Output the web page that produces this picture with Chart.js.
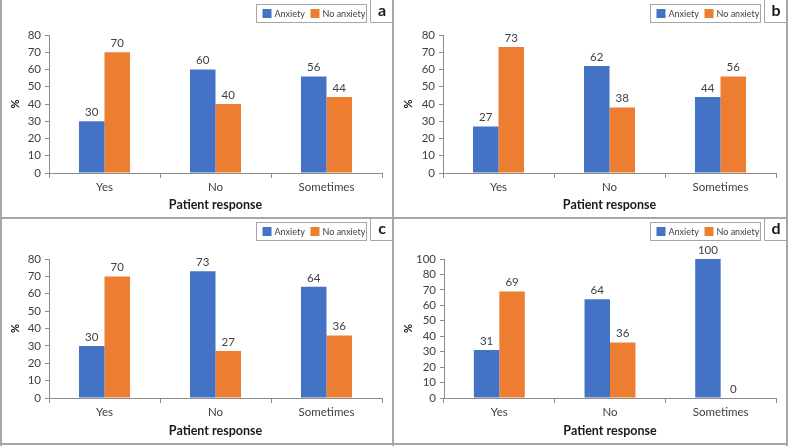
<!DOCTYPE html>
<html>
<head>
<meta charset="utf-8">
<script src="https://cdn.jsdelivr.net/npm/chart.js@4"></script>
<style>
  html,body{margin:0;padding:0;background:#fff;}
  #wrap{position:relative;width:788px;height:446px;overflow:hidden;}
  .panel{position:absolute;}
  .line{position:absolute;background:#a6a6a6;}
</style>
</head>
<body>
<div id="wrap">
  <div class="panel" style="left:0;top:0;width:393px;height:218px"><canvas id="ca"></canvas></div>
  <div class="panel" style="left:393px;top:0;width:394px;height:218px"><canvas id="cb"></canvas></div>
  <div class="panel" style="left:0;top:218px;width:393px;height:226px"><canvas id="cc"></canvas></div>
  <div class="panel" style="left:393px;top:218px;width:394px;height:226px"><canvas id="cd"></canvas></div>
  <div class="line" style="left:0;top:0;width:2px;height:446px"></div>
  <div class="line" style="left:786px;top:0;width:2px;height:446px"></div>
  <div class="line" style="left:392px;top:0;width:2px;height:446px"></div>
  <div class="line" style="left:0;top:217px;width:788px;height:2px"></div>
  <div class="line" style="left:0;top:443px;width:788px;height:2px"></div>
</div>
<script>
// ---- data ----
const categories = ['Yes', 'No', 'Sometimes'];
const seriesNames = ['Anxiety', 'No anxiety'];
const anxietyA = [30, 60, 56];
const noAnxietyA = [70, 40, 44];
const anxietyB = [27, 62, 44];
const noAnxietyB = [73, 38, 56];
const anxietyC = [30, 73, 64];
const noAnxietyC = [70, 27, 36];
const anxietyD = [31, 64, 100];
const noAnxietyD = [69, 36, 0];
const yTicksABC = [0, 10, 20, 30, 40, 50, 60, 70, 80];
const yTicksD = [0, 10, 20, 30, 40, 50, 60, 70, 80, 100];
const panelLetters = ['a', 'b', 'c', 'd'];
const xTitle = 'Patient response';
const yTitle = '%';

const BLUE = '#4472C4', ORANGE = '#ED7D31';
const FONT = 'Lato, "Open Sans", sans-serif';
const TXT = '#404040';
const AXIS = '#8c8c8c';

const decor = {
  id: 'decor',
  afterDatasetsDraw(chart, args, opts) {
    const ctx = chart.ctx;
    const W = chart.width;
    ctx.save();
    // data labels
    ctx.font = '11.5px ' + FONT;
    ctx.fillStyle = TXT;
    ctx.textAlign = 'center';
    ctx.textBaseline = 'bottom';
    chart.data.datasets.forEach((ds, di) => {
      const meta = chart.getDatasetMeta(di);
      meta.data.forEach((bar, i) => {
        const y = Math.max(bar.y, chart.chartArea.top);
        ctx.fillText(String(ds.data[i]), bar.x, y - 3);
      });
    });
    // letter box
    ctx.strokeStyle = '#a6a6a6';
    ctx.lineWidth = 1;
    const bx = W - 22.5;
    ctx.beginPath();
    ctx.moveTo(bx, 0); ctx.lineTo(bx, 22.5); ctx.lineTo(W, 22.5);
    ctx.stroke();
    ctx.font = 'bold 16px ' + FONT;
    ctx.fillStyle = '#1a1a1a';
    ctx.textAlign = 'center';
    ctx.textBaseline = 'middle';
    ctx.fillText(opts.letter, W - 11, 11);
    // legend
    const lx = W - 136.5, ly = opts.legendTop + 0.5, lw = 110, lh = 18;
    ctx.strokeStyle = '#a6a6a6';
    ctx.strokeRect(lx, ly, lw, lh);
    ctx.font = '9px ' + FONT;
    ctx.textAlign = 'left';
    chart.data.datasets.forEach((ds, k) => {
      const x = lx + 6 + k * 48;
      ctx.fillStyle = ds.backgroundColor;
      ctx.fillRect(x, ly + 4.5, 9, 9);
      ctx.fillStyle = TXT;
      ctx.fillText(ds.label, x + 12, ly + lh / 2 + 0.5);
    });
    ctx.restore();
  }
};

function makeChart(id, anx, noAnx, letter, opt) {
  const tickVals = opt.ticks;
  new Chart(document.getElementById(id), {
    type: 'bar',
    data: {
      labels: categories,
      datasets: [
        { label: seriesNames[0], data: anx, backgroundColor: BLUE },
        { label: seriesNames[1], data: noAnx, backgroundColor: ORANGE }
      ]
    },
    plugins: [decor],
    options: {
      responsive: true,
      maintainAspectRatio: false,
      animation: false,
      devicePixelRatio: 1,
      layout: { padding: { top: opt.top, right: opt.right, left: 0, bottom: 0 } },
      datasets: { bar: { categoryPercentage: 0.46, barPercentage: 1 } },
      plugins: {
        legend: { display: false },
        tooltip: { enabled: false },
        decor: { letter: letter, legendTop: opt.legendTop }
      },
      scales: {
        x: {
          grid: { display: true, drawOnChartArea: false, drawTicks: true, tickLength: 5, color: AXIS, offset: true },
          border: { display: true, color: AXIS, width: 1 },
          ticks: { color: TXT, font: { family: FONT, size: 11.5 }, padding: 2, maxRotation: 0 },
          title: { display: true, text: xTitle, color: '#1a1a1a', font: { family: FONT, size: 12.5, weight: 'bold' }, padding: { top: 0, bottom: 6 } },
          afterFit: s => { s.height = opt.xh; }
        },
        y: {
          min: 0, max: opt.max,
          afterBuildTicks: s => { s.ticks = opt.tickPos.map(v => ({ value: v })); },
          grid: { display: true, drawOnChartArea: false, drawTicks: true, tickLength: 4, color: AXIS },
          border: { display: true, color: AXIS, width: 1 },
          ticks: {
            color: TXT, font: { family: FONT, size: 11.5 }, padding: 4, autoSkip: false,
            callback: (v) => { const k = opt.tickPos.indexOf(v); return k >= 0 ? String(tickVals[k]) : ''; }
          },
          title: { display: true, text: yTitle, color: '#1a1a1a', font: { family: FONT, size: 11, weight: 'bold' }, padding: { top: 9, bottom: 0 } },
          afterFit: s => { s.width = opt.yw; }
        }
      }
    }
  });
}

const posABC = yTicksABC.slice();
const posD = [0, 10, 20, 30, 40, 50, 60, 70, 80, 90];

makeChart('ca', anxietyA, noAnxietyA, panelLetters[0], { ticks: yTicksABC, tickPos: posABC, max: 80, top: 35, right: 11, xh: 45, yw: 49, legendTop: 4 });
makeChart('cb', anxietyB, noAnxietyB, panelLetters[1], { ticks: yTicksABC, tickPos: posABC, max: 80, top: 35, right: 11, xh: 45, yw: 50, legendTop: 4 });
makeChart('cc', anxietyC, noAnxietyC, panelLetters[2], { ticks: yTicksABC, tickPos: posABC, max: 80, top: 41, right: 11, xh: 46, yw: 49, legendTop: 4 });
makeChart('cd', anxietyD, noAnxietyD, panelLetters[3], { ticks: yTicksD, tickPos: posD, max: 90, top: 41, right: 11, xh: 46, yw: 51, legendTop: 4 });
</script>
</body>
</html>
